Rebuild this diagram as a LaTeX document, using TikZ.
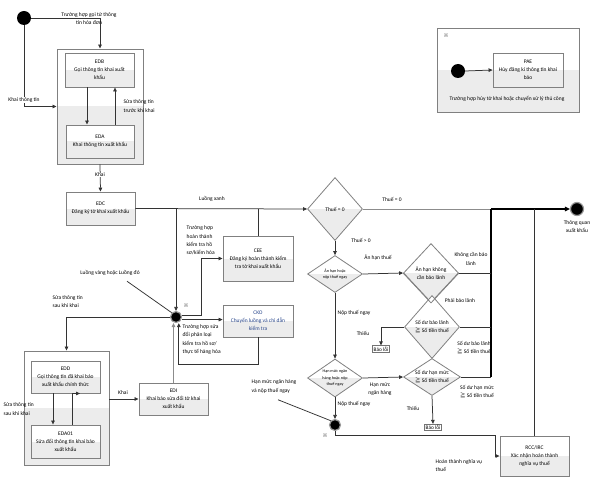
\documentclass[tikz,border=0pt]{standalone}
\usepackage{fontspec}
\setmainfont{Carlito}
\newfontfamily\cjk{Noto Sans CJK SC}
\usetikzlibrary{arrows.meta,shapes.geometric,calc}
\definecolor{ckoblue}{RGB}{40,70,140}
\definecolor{lowgray}{RGB}{236,236,236}
\newcommand{\mygeq}{{\cjk ≧}}
\newcommand{\refmark}{{\cjk ※}}
\tikzset{
  halfgray/.style={path picture={\fill[lowgray] (path picture bounding box.west) rectangle (path picture bounding box.south east);}},
  sbox/.style={draw=black!50, line width=0.9pt, fill=white, halfgray, align=center, inner sep=1pt, font=\fontsize{5.5}{8}\selectfont},
  cont/.style={draw=black!50, line width=0.9pt, fill=white, halfgray, inner sep=0pt},
  dia/.style={diamond, draw=black!50, line width=0.8pt, fill=white, halfgray, inner sep=0pt},
  dtxt/.style={align=center, inner sep=0pt, font=\fontsize{5.5}{8}\selectfont},
  dtiny/.style={align=center, inner sep=0pt, font=\fontsize{4.2}{6.5}\selectfont},
  junc/.style={circle, fill=black, draw=black!40, line width=1.2pt, minimum size=11pt, inner sep=0pt},
  endc/.style={circle, fill=black, draw=black!40, line width=1.2pt, minimum size=13pt, inner sep=0pt},
  startc/.style={circle, fill=black, minimum size=14pt, inner sep=0pt},
  errb/.style={draw=black!55, line width=0.9pt, fill=white, inner sep=1pt, font=\fontsize{5.3}{7}\selectfont},
  lab/.style={align=center, inner sep=0.5pt, font=\fontsize{5.5}{8.3}\selectfont},
  labl/.style={align=left, anchor=west, inner sep=0.5pt, font=\fontsize{5.5}{8.3}\selectfont},
  refm/.style={inner sep=0pt, font=\fontsize{5}{6}\selectfont},
  conn/.style={draw=black!80, line width=0.75pt},
  arr/.style={conn, -{Triangle[length=4pt,width=3.6pt]}},
}
\begin{document}
\begin{tikzpicture}[x=1pt,y=-1pt]
\useasboundingbox (0,0) rectangle (601,481);

% ---- containers and boxes
\node[cont, minimum width=86pt, minimum height=115pt] (edbc) at (100,106.5) {};
\node[sbox, minimum width=69pt, minimum height=34pt] (edb) at (99.5,70) {EDB\\Gọi thông tin khai xuất\\khẩu};
\node[sbox, minimum width=68pt, minimum height=33pt] (eda) at (100,141.5) {EDA\\Khai thông tin xuất khẩu};
\node[sbox, minimum width=69pt, minimum height=33pt] (edc) at (100.5,208.5) {EDC\\Đăng ký tờ khai xuất khẩu};
\node[sbox, minimum width=70pt, minimum height=45pt] (cee) at (258,258.5) {CEE\\Đăng ký hoàn thành kiểm\\tra tờ khai xuất khẩu};
\node[sbox, minimum width=70pt, minimum height=32pt, text=ckoblue] (cko) at (258,321) {CKO\\Chuyển luồng và chỉ dẫn\\kiểm tra};
\node[sbox, minimum width=69pt, minimum height=32pt] (edi) at (173.5,399) {EDI\\Khai báo sửa đổi tờ khai\\xuất khẩu};
\node[cont, minimum width=85pt, minimum height=114pt] (eddc) at (66.5,408) {};
\node[sbox, minimum width=69pt, minimum height=32pt] (edd) at (65.5,377) {EDD\\Gọi thông tin đã khai báo\\xuất khẩu chính thức};
\node[sbox, minimum width=69pt, minimum height=33pt] (eda01) at (65.5,441.5) {EDA01\\Sửa đổi thông tin khai báo\\xuất khẩu};
\node[sbox, minimum width=69pt, minimum height=40pt] (rcc) at (534.5,456) {RCC/IRC\\Xác nhận hoàn thành\\nghĩa vụ thuế};
\node[cont, minimum width=142pt, minimum height=84pt] (pcont) at (508,70) {};
\node[sbox, minimum width=70pt, minimum height=34pt] (pae) at (528,70) {PAE\\Hủy đăng kí thông tin khai\\báo};

% ---- diamonds
\node[dia, minimum width=55pt, minimum height=63pt] (d1) at (335,209) {};
\node[dtxt] (t1) at (d1) {Thuế = 0};
\node[dia, minimum width=55pt, minimum height=37pt] (d2) at (335,274) {};
\node[dtiny] (t2) at (d2) {Ân hạn hoặc\\nộp thuế ngay};
\node[dia, minimum width=55pt, minimum height=59pt] (d3) at (431,273) {};
\node[dia, minimum width=55pt, minimum height=63pt] (d4) at (432,327) {};
\draw[draw=black!50, line width=0.8pt] (d3.west) -- (d3.south) -- (d3.east);
\node[dtxt] (t3) at (d3) {Ân hạn không\\cần bảo lãnh};
\node[dtxt] (t4) at (d4) {Số dư bảo lãnh\\\mygeq{} Số tiền thuế};
\node[dia, minimum width=57pt, minimum height=37pt] (d5) at (432,377) {};
\node[dtxt] (t5) at (d5) {Số dư hạn mức\\\mygeq{} Số tiền thuế};
\node[dia, minimum width=55pt, minimum height=38pt] (d6) at (335,378) {};
\node[dtiny] (t6) at (d6) {Hạn mức ngân\\hàng hoặc nộp\\thuế ngay};

% ---- circles
\node[startc] (s1) at (24,18) {};
\node[junc] (j1) at (176,317) {};
\node[junc] (j2) at (335,425) {};
\node[endc] (endc) at (577,209) {};
\node[startc] (s2) at (458,71) {};

% ---- error boxes
\node[errb] (bl1) at (381,349) {Báo lỗi};
\node[errb] (bl2) at (433,427.5) {Báo lỗi};

% ---- merge coordinates
\coordinate (mtop) at (491,209);
\coordinate (mbot) at (491,377);

% ---- connectors
\draw[arr] (s1.east) -| (edbc.north);
\draw[arr] (s1.south) |- (edbc.west);
\draw[arr] ([xshift=-12.5pt]edb.south) -- ([xshift=-13pt]eda.north);
\draw[arr] ([xshift=15pt]eda.north) -- ([xshift=15.5pt]edb.south);
\draw[arr] (edbc.south) -- (edc.north);
\draw[arr] (edc.east) -- (d1.west);
\draw[arr] (edc.east -| j1.north) -- (j1.north);
\draw[arr] (j1.20) -- ++(20,0) |- (cee.west);
\draw[conn] (cee.north) -- (cee.north |- edc.east);
\draw[arr] (j1.-25) -- (j1.-25 -| cko.west);
\draw[arr] (cko.south) -- ++(0,27) -| ([xshift=2.8pt]j1.south);
\draw[arr, draw=black!45, line width=1.6pt] (edi.north) -- (edi.north |- j1.south);
\draw[arr] (j1.west) -| (eddc.north);
\draw[arr] ([xshift=-12.5pt]edd.south) -- ([xshift=-12.5pt]eda01.north);
\draw[arr] ([xshift=6.5pt]eda01.north) |- ([xshift=14.5pt]edd.south);
\draw[arr] (eddc.east |- edi.west) -- (edi.west);

\draw[draw=black!45, line width=0.7pt] (d1.east) -- (mtop);
\draw[draw=black, line width=1.2pt] (mbot) -- (mtop);
\draw[draw=black, line width=1.7pt, -{Triangle[length=5pt,width=4.5pt]}] (mtop) -- (endc.west);
\draw[arr] (d1.south) -- (d2.north);
\draw[arr] (d2.east) -- (d3.west);
\draw[conn] (d3.east) -- (d3.east -| mtop);
\draw[conn] (d4.east) -- (d4.east -| mtop);
\draw[arr] (d4.west) -| (bl1.north);
\draw[conn] (d5.east) -- (mbot);
\draw[arr] (d5.south) -- (bl2.north);
\draw[arr] (d2.south) -- (d6.north);
\draw[arr] (d6.east) -- (d5.west);
\draw[arr] (d6.south) -- (j2.north);
\draw[arr] (j2.south) -- ++(0,4) -| ([xshift=-4pt]rcc.west) -- (rcc.west);
\draw[conn] (rcc.north) -- (rcc.north |- mtop);
\draw[arr] (s2.east) -- (pae.west);

% ---- labels
\node[lab] (l1) at (89,18.5) {Trường hợp gọi từ thông\\tin hóa đơn};
\node[lab, fill=white] (l2) at (24,100) {Khai thông tin};
\node[labl] (l3) at (123,106) {Sửa thông tin\\trước khi khai};
\node[lab, fill=white] (l4) at (100,175) {Khai};
\node[lab] (l5) at (212,199) {Luồng xanh};
\node[labl] (l6) at (186,240.5) {Trường hợp\\hoàn thành\\kiểm tra hồ\\sơ/kiểm hóa};
\node[lab] (l7) at (110,273) {Luồng vàng hoặc Luồng đỏ};
\draw[conn] ([xshift=17pt,yshift=-5pt]l7.south) -- (j1.north west);
\node[labl] (l8) at (52,301.5) {Sửa thông tin\\sau khi khai};
\node[refm] (r1) at (186,306) {\refmark};
\node[labl] (l9) at (182,339.5) {Trường hợp sửa\\đổi phân loại\\kiểm tra hồ sơ/\\thực tế hàng hóa};
\node[labl] (l10) at (3,409) {Sửa thông tin\\sau khi khai};
\node[lab] (l11) at (123,393) {Khai};
\node[lab] (l12) at (392,199) {Thuế = 0};
\node[lab] (l13) at (361,240) {Thuế > 0};
\node[lab] (l14) at (378,258) {Ân hạn thuế};
\node[lab] (l15) at (471,259) {Không cần bảo\\lãnh};
\node[lab] (l16) at (460,301) {Phải bảo lãnh};
\node[lab] (l17) at (474,347.5) {Số dư bảo lãnh\\\mygeq{} Số tiền thuế};
\node[lab] (l18) at (363,333) {Thiếu};
\node[labl] (l19) at (337,313) {Nộp thuế ngay};
\node[lab] (l20) at (380,389) {Hạn mức\\ngân hàng};
\node[lab] (l21) at (477,391.5) {Số dư hạn mức\\\mygeq{} Số tiền thuế};
\node[lab] (l22) at (413,408) {Thiếu};
\node[labl] (l23) at (337,404) {Nộp thuế ngay};
\node[labl] (l24) at (251,386.5) {Hạn mức ngân hàng\\và nộp thuế ngay};
\draw[conn] ([xshift=4pt,yshift=-6pt]l24.south) -- (j2.north west);
\node[refm] (r2) at (325,436) {\refmark};
\node[labl] (l25) at (435,465.5) {Hoàn thành nghĩa vụ\\thuế};
\node[lab] (l26) at (577,226.5) {Thông quan\\xuất khẩu};
\node[refm] (r3) at (446,36) {\refmark};
\node[lab] (l27) at (507,99) {Trường hợp hủy tờ khai hoặc chuyển xử lý thủ công};
\end{tikzpicture}
\end{document}
